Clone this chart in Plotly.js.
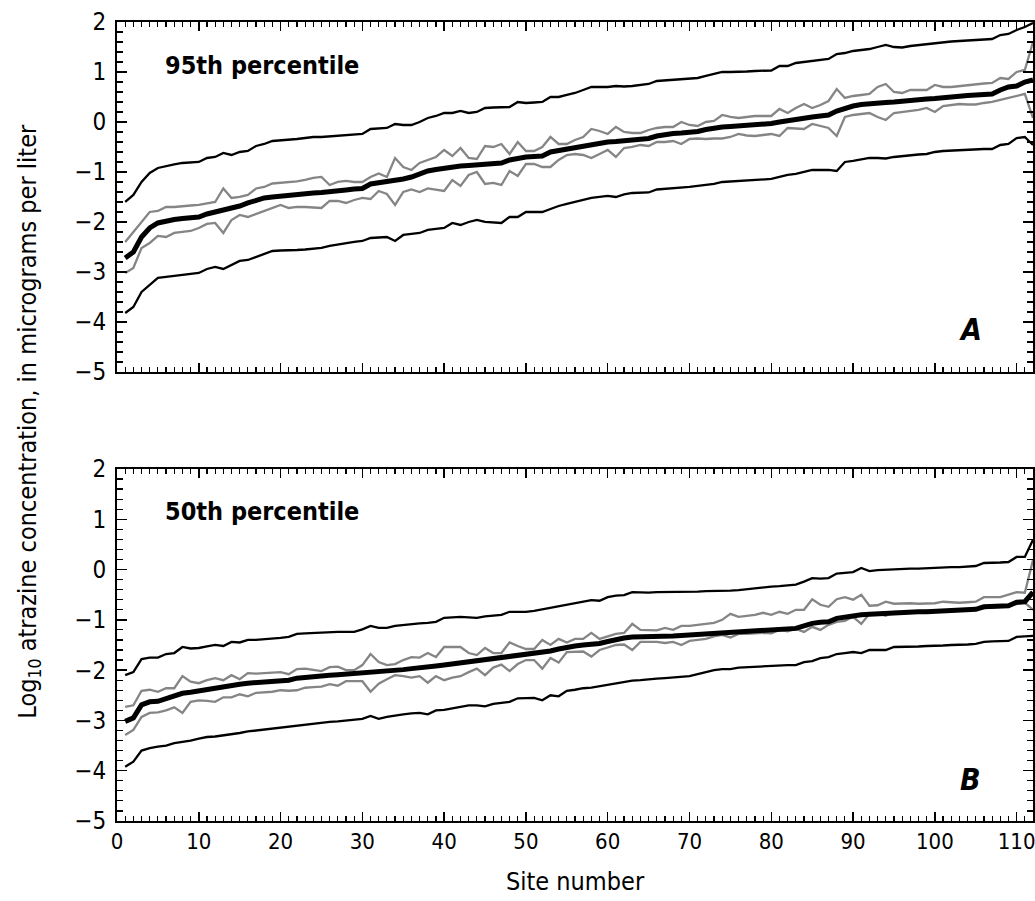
<!DOCTYPE html>
<html>
<head>
<meta charset="utf-8">
<script src="https://cdn.plot.ly/plotly-3.0.1.min.js"></script>
<style>html,body{margin:0;padding:0;background:#fff;}</style>
</head>
<body>
<div id="chart" style="width:1035px;height:901px;"></div>
<script>
// Site numbers
var sites = [];
for (var i = 1; i <= 112; i++) sites.push(i);

// Panel A: 95th percentile
var a_upper = [-1.6,-1.46,-1.2,-1.02,-0.92,-0.88,-0.85,-0.82,-0.81,-0.8,-0.72,-0.7,-0.62,-0.66,-0.6,-0.58,-0.48,-0.44,-0.38,-0.37,-0.36,-0.34,-0.32,-0.3,-0.3,-0.29,-0.28,-0.26,-0.25,-0.24,-0.14,-0.13,-0.12,-0.04,-0.06,-0.06,0.0,0.08,0.12,0.18,0.18,0.22,0.18,0.2,0.28,0.29,0.3,0.3,0.4,0.38,0.39,0.4,0.5,0.5,0.54,0.58,0.64,0.7,0.7,0.7,0.72,0.71,0.72,0.74,0.76,0.82,0.83,0.84,0.86,0.87,0.88,0.92,0.96,1.0,1.0,1.0,1.01,1.02,1.02,1.03,1.12,1.12,1.18,1.2,1.22,1.24,1.26,1.36,1.38,1.42,1.44,1.46,1.5,1.54,1.5,1.49,1.52,1.54,1.56,1.58,1.6,1.61,1.62,1.63,1.64,1.65,1.66,1.74,1.76,1.84,1.9,1.98];
var a_hi = [-2.4,-2.2,-2.0,-1.8,-1.78,-1.7,-1.7,-1.68,-1.67,-1.66,-1.63,-1.6,-1.33,-1.52,-1.5,-1.46,-1.33,-1.3,-1.23,-1.22,-1.2,-1.19,-1.16,-1.12,-1.1,-1.26,-1.2,-1.18,-1.2,-1.2,-1.1,-1.03,-1.1,-0.72,-0.9,-0.96,-0.82,-0.76,-0.7,-0.56,-0.68,-0.52,-0.72,-0.74,-0.48,-0.5,-0.44,-0.64,-0.4,-0.58,-0.58,-0.5,-0.3,-0.44,-0.44,-0.36,-0.3,-0.14,-0.18,-0.24,-0.1,-0.2,-0.22,-0.22,-0.16,-0.12,-0.1,-0.1,0.0,-0.06,-0.08,0.0,0.02,0.14,0.1,0.08,0.1,0.12,0.12,0.12,0.26,0.18,0.28,0.36,0.28,0.34,0.42,0.66,0.48,0.52,0.54,0.56,0.7,0.76,0.6,0.58,0.64,0.64,0.64,0.74,0.7,0.7,0.72,0.74,0.76,0.77,0.78,0.88,0.86,1.0,1.04,1.6];
var a_mid = [-2.72,-2.6,-2.3,-2.12,-2.02,-1.98,-1.95,-1.93,-1.92,-1.9,-1.84,-1.8,-1.77,-1.72,-1.68,-1.62,-1.56,-1.52,-1.5,-1.48,-1.46,-1.45,-1.43,-1.42,-1.41,-1.4,-1.38,-1.36,-1.34,-1.33,-1.24,-1.22,-1.2,-1.17,-1.14,-1.1,-1.04,-0.98,-0.95,-0.92,-0.9,-0.88,-0.87,-0.86,-0.85,-0.84,-0.82,-0.76,-0.72,-0.7,-0.69,-0.68,-0.6,-0.57,-0.53,-0.5,-0.47,-0.44,-0.42,-0.4,-0.39,-0.38,-0.36,-0.34,-0.33,-0.28,-0.25,-0.23,-0.22,-0.21,-0.19,-0.15,-0.12,-0.1,-0.09,-0.08,-0.07,-0.05,-0.04,-0.03,0.0,0.03,0.05,0.08,0.1,0.12,0.14,0.22,0.28,0.32,0.35,0.37,0.38,0.39,0.4,0.42,0.43,0.45,0.46,0.47,0.49,0.5,0.52,0.53,0.54,0.55,0.56,0.64,0.7,0.72,0.8,0.84];
var a_lo = [-3.02,-2.92,-2.52,-2.42,-2.28,-2.3,-2.22,-2.2,-2.18,-2.12,-2.04,-2.02,-2.22,-1.96,-1.86,-1.9,-1.84,-1.78,-1.72,-1.66,-1.72,-1.7,-1.7,-1.71,-1.72,-1.58,-1.58,-1.62,-1.56,-1.52,-1.54,-1.38,-1.44,-1.66,-1.4,-1.35,-1.4,-1.33,-1.35,-1.38,-1.16,-1.28,-1.06,-1.0,-1.24,-1.22,-1.26,-0.98,-1.08,-0.84,-0.84,-0.9,-0.9,-0.76,-0.66,-0.64,-0.66,-0.72,-0.64,-0.56,-0.7,-0.52,-0.5,-0.46,-0.48,-0.4,-0.4,-0.38,-0.44,-0.34,-0.33,-0.34,-0.33,-0.33,-0.3,-0.24,-0.27,-0.28,-0.26,-0.24,-0.28,-0.12,-0.13,-0.14,-0.04,-0.08,-0.12,-0.28,0.1,0.14,0.16,0.18,0.1,0.04,0.18,0.2,0.22,0.24,0.28,0.2,0.32,0.34,0.36,0.35,0.35,0.38,0.4,0.44,0.48,0.52,0.56,0.08];
var a_lower = [-3.82,-3.7,-3.4,-3.26,-3.12,-3.1,-3.08,-3.06,-3.04,-3.02,-2.94,-2.9,-2.94,-2.86,-2.78,-2.76,-2.7,-2.64,-2.58,-2.57,-2.57,-2.56,-2.55,-2.54,-2.52,-2.48,-2.45,-2.42,-2.4,-2.38,-2.32,-2.31,-2.3,-2.38,-2.26,-2.24,-2.22,-2.16,-2.14,-2.12,-2.02,-2.06,-2.0,-1.96,-2.0,-2.01,-2.02,-1.9,-1.9,-1.8,-1.8,-1.8,-1.74,-1.68,-1.64,-1.6,-1.56,-1.52,-1.5,-1.48,-1.5,-1.45,-1.42,-1.42,-1.41,-1.35,-1.34,-1.33,-1.32,-1.3,-1.28,-1.26,-1.24,-1.2,-1.19,-1.18,-1.17,-1.16,-1.15,-1.14,-1.1,-1.06,-1.04,-1.0,-0.96,-0.96,-0.96,-0.98,-0.8,-0.78,-0.75,-0.72,-0.72,-0.73,-0.7,-0.68,-0.66,-0.65,-0.64,-0.6,-0.58,-0.57,-0.56,-0.55,-0.54,-0.54,-0.54,-0.46,-0.44,-0.32,-0.3,-0.46];

// Panel B: 50th percentile
var b_upper = [-2.1,-2.04,-1.78,-1.75,-1.75,-1.68,-1.66,-1.54,-1.57,-1.56,-1.53,-1.5,-1.52,-1.44,-1.45,-1.4,-1.4,-1.39,-1.38,-1.36,-1.34,-1.28,-1.27,-1.26,-1.25,-1.25,-1.24,-1.24,-1.24,-1.19,-1.12,-1.16,-1.16,-1.12,-1.1,-1.08,-1.07,-1.06,-1.04,-0.96,-0.95,-0.94,-0.95,-0.96,-0.93,-0.92,-0.9,-0.84,-0.84,-0.84,-0.82,-0.79,-0.75,-0.73,-0.7,-0.66,-0.63,-0.61,-0.62,-0.55,-0.52,-0.51,-0.45,-0.46,-0.46,-0.45,-0.45,-0.44,-0.44,-0.44,-0.44,-0.43,-0.43,-0.43,-0.42,-0.41,-0.39,-0.37,-0.35,-0.34,-0.33,-0.32,-0.3,-0.24,-0.17,-0.18,-0.17,-0.08,-0.06,-0.05,0.03,-0.03,-0.01,0.0,0.01,0.01,0.02,0.02,0.03,0.04,0.04,0.05,0.05,0.06,0.07,0.13,0.13,0.14,0.15,0.25,0.25,0.59];
var b_hi = [-2.73,-2.7,-2.41,-2.39,-2.43,-2.36,-2.36,-2.12,-2.23,-2.26,-2.2,-2.16,-2.2,-2.1,-2.18,-2.06,-2.07,-2.06,-2.05,-2.04,-2.08,-1.98,-1.97,-2.0,-2.02,-1.94,-1.93,-2.0,-2.0,-1.9,-1.68,-1.84,-1.9,-1.88,-1.8,-1.74,-1.75,-1.66,-1.74,-1.54,-1.54,-1.54,-1.66,-1.7,-1.56,-1.66,-1.66,-1.45,-1.52,-1.58,-1.58,-1.4,-1.5,-1.38,-1.45,-1.38,-1.38,-1.26,-1.38,-1.33,-1.28,-1.26,-1.08,-1.2,-1.21,-1.21,-1.16,-1.2,-1.12,-1.12,-1.1,-1.08,-1.06,-1.0,-0.88,-0.94,-0.92,-0.9,-0.86,-0.9,-0.84,-0.88,-0.8,-0.8,-0.59,-0.7,-0.74,-0.59,-0.55,-0.6,-0.5,-0.72,-0.71,-0.64,-0.68,-0.67,-0.67,-0.68,-0.67,-0.67,-0.64,-0.65,-0.66,-0.65,-0.64,-0.55,-0.55,-0.55,-0.5,-0.45,-0.46,0.19];
var b_mid = [-3.02,-2.95,-2.69,-2.63,-2.62,-2.57,-2.53,-2.46,-2.44,-2.41,-2.39,-2.36,-2.33,-2.31,-2.28,-2.26,-2.25,-2.24,-2.23,-2.21,-2.2,-2.16,-2.14,-2.13,-2.12,-2.1,-2.09,-2.08,-2.07,-2.06,-2.04,-2.03,-2.02,-2.0,-1.99,-1.97,-1.96,-1.94,-1.92,-1.9,-1.88,-1.85,-1.83,-1.81,-1.8,-1.78,-1.76,-1.74,-1.72,-1.7,-1.68,-1.66,-1.62,-1.58,-1.54,-1.52,-1.5,-1.49,-1.47,-1.43,-1.39,-1.36,-1.34,-1.34,-1.33,-1.33,-1.33,-1.32,-1.31,-1.3,-1.3,-1.29,-1.28,-1.27,-1.26,-1.25,-1.24,-1.23,-1.22,-1.21,-1.2,-1.18,-1.17,-1.12,-1.07,-1.05,-1.04,-0.97,-0.94,-0.92,-0.9,-0.89,-0.88,-0.88,-0.85,-0.85,-0.85,-0.84,-0.84,-0.83,-0.82,-0.81,-0.8,-0.8,-0.79,-0.74,-0.73,-0.73,-0.72,-0.65,-0.64,-0.45];
var b_lo = [-3.29,-3.19,-2.93,-2.85,-2.84,-2.8,-2.74,-2.85,-2.63,-2.6,-2.61,-2.63,-2.54,-2.54,-2.48,-2.52,-2.45,-2.44,-2.43,-2.4,-2.41,-2.4,-2.35,-2.34,-2.33,-2.28,-2.31,-2.22,-2.22,-2.22,-2.43,-2.27,-2.18,-2.1,-2.12,-2.15,-2.12,-2.25,-2.12,-2.2,-2.15,-2.12,-2.04,-1.97,-2.1,-1.95,-1.89,-2.02,-1.88,-1.8,-1.8,-1.97,-1.76,-1.85,-1.64,-1.64,-1.63,-1.73,-1.6,-1.55,-1.5,-1.49,-1.6,-1.44,-1.44,-1.44,-1.46,-1.44,-1.5,-1.42,-1.4,-1.38,-1.33,-1.3,-1.35,-1.28,-1.28,-1.27,-1.26,-1.27,-1.2,-1.23,-1.18,-1.24,-1.14,-1.2,-1.1,-1.04,-1.02,-0.94,-1.08,-0.88,-0.87,-0.92,-0.84,-0.84,-0.83,-0.83,-0.82,-0.81,-0.82,-0.8,-0.8,-0.79,-0.78,-0.76,-0.75,-0.74,-0.71,-0.68,-0.66,-0.8];
var b_lower = [-3.92,-3.82,-3.6,-3.55,-3.52,-3.5,-3.45,-3.43,-3.4,-3.36,-3.33,-3.32,-3.3,-3.28,-3.25,-3.22,-3.2,-3.18,-3.16,-3.15,-3.12,-3.1,-3.08,-3.06,-3.05,-3.03,-3.02,-3.0,-2.99,-2.97,-2.91,-2.97,-2.93,-2.9,-2.88,-2.86,-2.85,-2.88,-2.8,-2.79,-2.76,-2.73,-2.7,-2.7,-2.72,-2.67,-2.65,-2.63,-2.56,-2.56,-2.55,-2.6,-2.5,-2.52,-2.41,-2.39,-2.36,-2.35,-2.32,-2.3,-2.26,-2.24,-2.21,-2.2,-2.18,-2.17,-2.16,-2.15,-2.14,-2.12,-2.08,-2.04,-2.0,-1.98,-1.98,-1.95,-1.94,-1.93,-1.92,-1.91,-1.91,-1.9,-1.9,-1.84,-1.82,-1.76,-1.74,-1.68,-1.66,-1.64,-1.66,-1.6,-1.6,-1.6,-1.54,-1.54,-1.53,-1.53,-1.52,-1.52,-1.51,-1.5,-1.5,-1.49,-1.48,-1.44,-1.43,-1.43,-1.42,-1.34,-1.33,-1.32];

var xTicks = [0,10,20,30,40,50,60,70,80,90,100,110];
var yTicks = [-5,-4,-3,-2,-1,0,1,2];

var FONT = '"Liberation Sans Narrow", "Arial Narrow", "DejaVu Sans Condensed", sans-serif';
var GRAY = '#858585';

function lineTrace(y, xa, ya, color, w) {
  return {x: sites, y: y, xaxis: xa, yaxis: ya, type: 'scatter', mode: 'lines',
          line: {color: color, width: w, shape: 'linear'}, hoverinfo: 'skip', showlegend: false};
}

var traces = [
  lineTrace(a_upper, 'x', 'y', '#000', 2.3),
  lineTrace(a_lower, 'x', 'y', '#000', 2.3),
  lineTrace(a_hi, 'x', 'y', GRAY, 2.3),
  lineTrace(a_lo, 'x', 'y', GRAY, 2.3),
  lineTrace(a_mid, 'x', 'y', '#000', 5),
  lineTrace(b_upper, 'x2', 'y2', '#000', 2.3),
  lineTrace(b_lower, 'x2', 'y2', '#000', 2.3),
  lineTrace(b_hi, 'x2', 'y2', GRAY, 2.3),
  lineTrace(b_lo, 'x2', 'y2', GRAY, 2.3),
  lineTrace(b_mid, 'x2', 'y2', '#000', 5)
];

function xAxis(anchor, labels) {
  return {
    anchor: anchor, domain: [0, 1], range: [0, 112], autorange: false,
    tickmode: 'array', tickvals: xTicks, ticktext: xTicks.map(String),
    showticklabels: labels, ticks: 'inside', ticklen: 9, tickwidth: 1.5, tickcolor: '#000',
    minor: {dtick: 1, tick0: 0, ticks: 'inside', ticklen: 5, tickwidth: 1.2, tickcolor: '#000'},
    showline: true, linecolor: '#000', linewidth: 2, mirror: 'ticks',
    showgrid: false, zeroline: false, ticklabeloverflow: 'allow',
    tickfont: {family: FONT, size: 22, color: '#000'}
  };
}
function yAxis(anchor, dom) {
  return {
    anchor: anchor, domain: dom, range: [-5, 2], autorange: false,
    tickmode: 'array', tickvals: yTicks, ticktext: yTicks.map(function(v){return v < 0 ? '\u2212' + Math.abs(v) : String(v);}),
    ticks: 'inside', ticklen: 10, tickwidth: 1.5, tickcolor: '#000',
    minor: {dtick: 0.2, tick0: 0, ticks: 'inside', ticklen: 6, tickwidth: 1.2, tickcolor: '#000'},
    showline: true, linecolor: '#000', linewidth: 2, mirror: 'ticks',
    showgrid: false, zeroline: false, ticklabeloverflow: 'allow',
    tickfont: {family: FONT, size: 24, color: '#000'},
    ticklabelstandoff: 4
  };
}

var layout = {
  width: 1035, height: 901,
  margin: {l: 117, r: 2, t: 22, b: 80},
  paper_bgcolor: '#fff', plot_bgcolor: '#fff',
  showlegend: false,
  xaxis: xAxis('y', false),
  yaxis: yAxis('x', [0.562, 1]),
  xaxis2: xAxis('y2', true),
  yaxis2: yAxis('x2', [0, 0.4406]),
  annotations: [
    {xref: 'x', yref: 'y', x: 5.6, y: 1.13, xanchor: 'left', yanchor: 'middle', showarrow: false,
     text: '<b>95th percentile</b>', font: {family: FONT, size: 25, color: '#000'}},
    {xref: 'x2', yref: 'y2', x: 5.6, y: 1.15, xanchor: 'left', yanchor: 'middle', showarrow: false,
     text: '<b>50th percentile</b>', font: {family: FONT, size: 25, color: '#000'}},
    {xref: 'x', yref: 'y', x: 104.3, y: -4.15, xanchor: 'center', yanchor: 'middle', showarrow: false,
     text: '<b><i>A</i></b>', font: {family: FONT, size: 30, color: '#000'}},
    {xref: 'x2', yref: 'y2', x: 104.3, y: -4.17, xanchor: 'center', yanchor: 'middle', showarrow: false,
     text: '<b><i>B</i></b>', font: {family: FONT, size: 30, color: '#000'}},
    {xref: 'paper', yref: 'paper', x: -0.097, y: 0.5, xanchor: 'center', yanchor: 'middle', showarrow: false,
     textangle: -90, text: 'Log<sub>10</sub> atrazine concentration, in micrograms per liter',
     font: {family: FONT, size: 25, color: '#000'}},
    {xref: 'paper', yref: 'paper', x: 0.5, y: -0.076, xanchor: 'center', yanchor: 'middle', showarrow: false,
     text: 'Site number', font: {family: FONT, size: 25, color: '#000'}}
  ]
};

Plotly.newPlot('chart', traces, layout, {staticPlot: true, displayModeBar: false});
</script>
</body>
</html>
